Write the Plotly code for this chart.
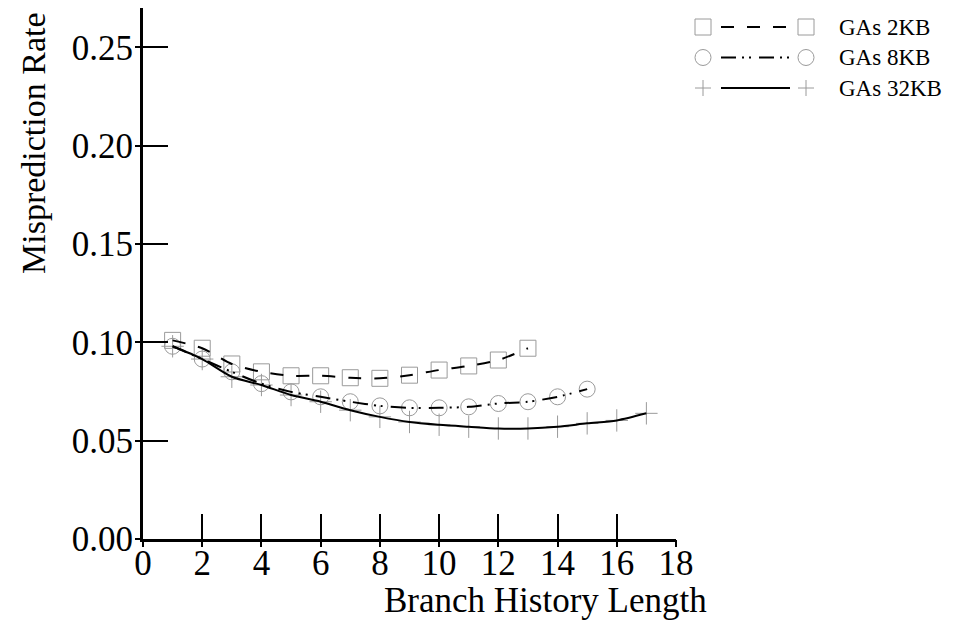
import plotly.graph_objects as go

# ---- data ----
hist_2kb = list(range(1, 14))
rate_2kb = [0.101, 0.097, 0.089, 0.085, 0.083, 0.083, 0.082, 0.0817, 0.0833,
            0.0859, 0.088, 0.091, 0.097]
hist_8kb = list(range(1, 16))
rate_8kb = [0.098, 0.0915, 0.085, 0.079, 0.0748, 0.0723, 0.0698, 0.0677, 0.0667,
            0.0667, 0.0672, 0.0689, 0.0698, 0.0723, 0.0762]
hist_32kb = list(range(1, 18))
rate_32kb = [0.098, 0.0915, 0.0825, 0.0783, 0.0732, 0.0698, 0.0655, 0.0621, 0.0595,
             0.0581, 0.0571, 0.0562, 0.0562, 0.0571, 0.0588, 0.0603, 0.0639]
series_names = ["GAs 2KB", "GAs 8KB", "GAs 32KB"]
x_ticks = list(range(0, 19, 2))
y_ticks = [0.0, 0.05, 0.10, 0.15, 0.20, 0.25]

# ---- style ----
W, H = 956, 634
ML, MR, MT, MB = 143, 280, 8, 95
FONT = "Liberation Serif"
MARK_GRAY = "#9a9a9a"
dash_2 = "13px,13px"
dash_8 = "15px,6px,2px,5px,2px,8px"
symbols = ["square-open", "circle-open", "cross-thin-open"]
dashes = [dash_2, dash_8, "solid"]
TICK_SIZE = 35

series = [(hist_2kb, rate_2kb), (hist_8kb, rate_8kb), (hist_32kb, rate_32kb)]

fig = go.Figure()
for (xs, ys), sym in zip(series, symbols):
    fig.add_trace(go.Scatter(x=xs, y=ys, mode="markers", showlegend=False,
                             marker=dict(symbol=sym, size=16, color=MARK_GRAY,
                                         line=dict(color=MARK_GRAY, width=1))))
for (xs, ys), d, name in zip(series, dashes, series_names):
    fig.add_trace(go.Scatter(x=xs, y=ys, mode="lines", name=name, showlegend=False,
                             line=dict(color="black", width=2, dash=d,
                                       shape="spline", smoothing=0.8)))
# helper trace for secondary (outside tick stub) axes
fig.add_trace(go.Scatter(x=[None], y=[None], xaxis="x2", yaxis="y2",
                         showlegend=False, hoverinfo="skip"))

XR = [0, 18]
YR = [0, 0.27]

fig.update_layout(
    width=W, height=H,
    margin=dict(l=ML, r=MR, t=MT, b=MB, pad=0),
    paper_bgcolor="white", plot_bgcolor="white",
    font=dict(family=FONT, color="black", size=TICK_SIZE),
    xaxis=dict(range=XR, tickmode="array", tickvals=x_ticks,
               ticks="inside", ticklen=25, tickwidth=2, tickcolor="black",
               showline=True, linewidth=3, linecolor="black",
               showgrid=False, zeroline=False, ticklabelstandoff=-9,
               tickfont=dict(family=FONT, size=TICK_SIZE)),
    yaxis=dict(range=YR, tickmode="array", tickvals=y_ticks,
               tickformat=".2f",
               ticks="inside", ticklen=25, tickwidth=2, tickcolor="black",
               showline=True, linewidth=3, linecolor="black",
               showgrid=False, zeroline=False,
               tickfont=dict(family=FONT, size=TICK_SIZE)),
    xaxis2=dict(range=XR, overlaying="x", anchor="y2", side="bottom",
                tickmode="array", tickvals=x_ticks,
                ticks="outside", ticklen=7, tickwidth=2, tickcolor="black",
                showticklabels=False, showline=False, showgrid=False,
                zeroline=False),
    yaxis2=dict(range=YR, overlaying="y", anchor="x2", side="left",
                tickmode="array", tickvals=y_ticks,
                ticks="outside", ticklen=7, tickwidth=2, tickcolor="black",
                showticklabels=False, showline=False, showgrid=False,
                zeroline=False),
)

PW = W - ML - MR
PH = H - MT - MB


def px(xp):
    return (xp - ML) / PW


def py(yp):
    return (H - MB - yp) / PH


# axis titles
fig.add_annotation(text="Branch History Length", xref="paper", yref="paper",
                   x=px(545), y=py(600), xanchor="center", yanchor="middle",
                   showarrow=False, font=dict(family=FONT, size=TICK_SIZE))
fig.add_annotation(text="Misprediction Rate", xref="paper", yref="paper",
                   x=px(33), y=py(143), xanchor="center", yanchor="middle",
                   textangle=-90, showarrow=False,
                   font=dict(family=FONT, size=34))

# custom legend
rows = [27, 57.5, 88]
mL, l0, l1, mR, tx = 703, 721, 790, 806, 837
half = 8
for name, sym, d, ry in zip(series_names, symbols, dashes, rows):
    fig.add_shape(type="line", xref="paper", yref="paper",
                  x0=px(l0), x1=px(l1), y0=py(ry), y1=py(ry),
                  line=dict(color="black", width=2, dash=d))
    for cx in (mL, mR):
        if sym == "square-open":
            fig.add_shape(type="rect", xref="paper", yref="paper",
                          x0=px(cx - half), x1=px(cx + half),
                          y0=py(ry + half), y1=py(ry - half),
                          line=dict(color=MARK_GRAY, width=1))
        elif sym == "circle-open":
            fig.add_shape(type="circle", xref="paper", yref="paper",
                          x0=px(cx - half), x1=px(cx + half),
                          y0=py(ry + half), y1=py(ry - half),
                          line=dict(color=MARK_GRAY, width=1))
        else:
            fig.add_shape(type="line", xref="paper", yref="paper",
                          x0=px(cx - half), x1=px(cx + half),
                          y0=py(ry), y1=py(ry),
                          line=dict(color=MARK_GRAY, width=1))
            fig.add_shape(type="line", xref="paper", yref="paper",
                          x0=px(cx), x1=px(cx),
                          y0=py(ry + half), y1=py(ry - half),
                          line=dict(color=MARK_GRAY, width=1))
    fig.add_annotation(text=name, xref="paper", yref="paper",
                       x=px(tx), y=py(ry), xanchor="left", yanchor="middle",
                       showarrow=False, font=dict(family=FONT, size=23))

fig.write_html("out.html")
